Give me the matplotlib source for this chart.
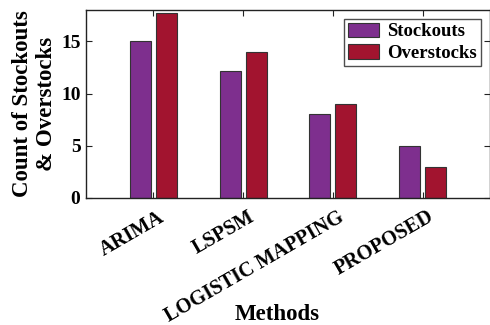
import numpy as np
import matplotlib
matplotlib.use("Agg")
import matplotlib.pyplot as plt
import matplotlib.transforms as mtransforms

methods = ["ARIMA", "LSPSM", "LOGISTIC MAPPING", "PROPOSED"]
stockouts = [15.0, 12.2, 8.0, 5.0]
overstocks = [17.7, 14.0, 9.0, 3.0]
series_names = ["Stockouts", "Overstocks"]
yticks = [0, 5, 10, 15]

plt.rcParams["font.family"] = ["Liberation Serif", "DejaVu Serif"]
plt.rcParams["font.weight"] = "bold"

fig = plt.figure(figsize=(4.9, 3.25), dpi=100)
ax = fig.add_axes([86 / 490, 1 - 198 / 325, 404 / 490, 188 / 325])

x = np.arange(1, len(methods) + 1)
w = 0.235
off = 0.145
ax.bar(x - off, stockouts, w, color="#7E2F8E", edgecolor="#333333",
       linewidth=0.8, label=series_names[0])
ax.bar(x + off, overstocks, w, color="#A2142F", edgecolor="#333333",
       linewidth=0.8, label=series_names[1])

ax.set_xlim(0.25, 4.75)
ax.set_ylim(0, 18)
ax.set_yticks(yticks)
ax.set_xticks(x)
ax.set_xticklabels([""] * len(methods))

# rotated category labels, anchored just right of each tick
base = mtransforms.blended_transform_factory(ax.transData, ax.transAxes)
shift = mtransforms.ScaledTranslation(4.5 / 100, -9 / 100, fig.dpi_scale_trans)
for xi, name in zip(x, methods):
    ax.text(xi, 0, name, transform=base + shift, rotation=30,
            rotation_mode="anchor", ha="right", va="top",
            fontsize=14.7, fontweight="bold", clip_on=False)

for lbl in ax.get_yticklabels():
    lbl.set_fontsize(14)
    lbl.set_fontweight("bold")

ax.tick_params(direction="in", length=4, width=0.8, top=True, right=True,
               color="#222222")
ax.tick_params(axis="y", pad=4)
for s in ax.spines.values():
    s.set_linewidth(1.0)
    s.set_color("#222222")

ax.set_ylabel("Count of Stockouts\n& Overstocks", fontsize=16.5,
              fontweight="bold", linespacing=1.2, labelpad=3)
fig.text(277 / 490, 1 - 314 / 325, "Methods", fontsize=16.5,
         fontweight="bold", ha="center", va="center")

leg = ax.legend(loc="upper right", fontsize=13.5, frameon=True, fancybox=False,
                edgecolor="#222222", borderpad=0.2, handlelength=1.65,
                handleheight=0.8, handletextpad=0.45, labelspacing=0.2,
                borderaxespad=0.0,
                bbox_to_anchor=((481 - 86) / 404, (198 - 19) / 188))
leg.get_frame().set_linewidth(1.0)
for t in leg.get_texts():
    t.set_fontweight("bold")

fig.savefig("out.png", dpi=100)
